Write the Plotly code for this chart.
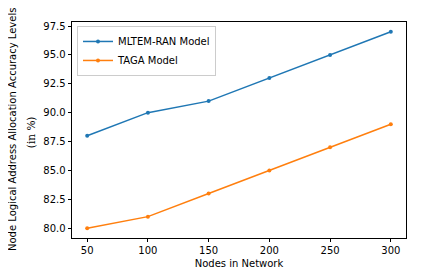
import plotly.graph_objects as go

nodes = [50, 100, 150, 200, 250, 300]
mltem_ran = [88, 90, 91, 93, 95, 97]
taga = [80, 81, 83, 85, 87, 89]
y_ticks = [80.0, 82.5, 85.0, 87.5, 90.0, 92.5, 95.0, 97.5]

# page has an 8px body margin; compensate so the plot area lands where the reference has it
OFF = 8
W, H = 422 - OFF, 279 - OFF
L, R, T, B = 72 - OFF, 16, 22 - OFF, 39
pw = W - L - R
ph = H - T - B

fig = go.Figure()
fig.add_trace(go.Scatter(x=nodes, y=mltem_ran, mode="lines+markers", name="MLTEM-RAN Model",
                         line=dict(color="#1f77b4", width=1.5), marker=dict(size=4, color="#1f77b4")))
fig.add_trace(go.Scatter(x=nodes, y=taga, mode="lines+markers", name="TAGA Model",
                         line=dict(color="#ff7f0e", width=1.5), marker=dict(size=4, color="#ff7f0e")))

axis_common = dict(showline=True, linecolor="black", linewidth=0.8, mirror=True,
                   ticks="outside", ticklen=3.5, tickwidth=0.8, tickcolor="black",
                   showgrid=False, zeroline=False, tickfont=dict(size=10, color="black"))

fig.update_layout(
    width=W, height=H,
    margin=dict(l=L, r=R, t=T, b=B),
    plot_bgcolor="white", paper_bgcolor="white",
    font=dict(family="DejaVu Sans", size=10, color="black"),
    xaxis=dict(range=[37.5, 312.5], tickvals=nodes, **axis_common,
               title=dict(text="Nodes in Network", font=dict(size=10), standoff=4)),
    yaxis=dict(range=[79.15, 97.85], tickvals=y_ticks, ticktext=[f"{v:.1f}" for v in y_ticks],
               **axis_common),
    showlegend=True,
    legend=dict(x=(77 - 72) / pw, y=1 - (26 - 22) / ph, xanchor="left", yanchor="top",
                bordercolor="#cccccc", borderwidth=1, bgcolor="white",
                font=dict(size=10), tracegroupgap=0, itemwidth=30),
)

fig.add_annotation(text="Node Logical Address Allocation Accuracy Levels", textangle=-90,
                   xref="paper", yref="paper", x=(12 - 72) / pw, y=0.5,
                   xanchor="center", yanchor="middle", showarrow=False,
                   font=dict(size=10, family="DejaVu Sans"))
fig.add_annotation(text="(in %)", textangle=-90,
                   xref="paper", yref="paper", x=(31 - 72) / pw, y=0.49,
                   xanchor="center", yanchor="middle", showarrow=False,
                   font=dict(size=10.5, family="DejaVu Serif"))

fig.write_html("out.html")
